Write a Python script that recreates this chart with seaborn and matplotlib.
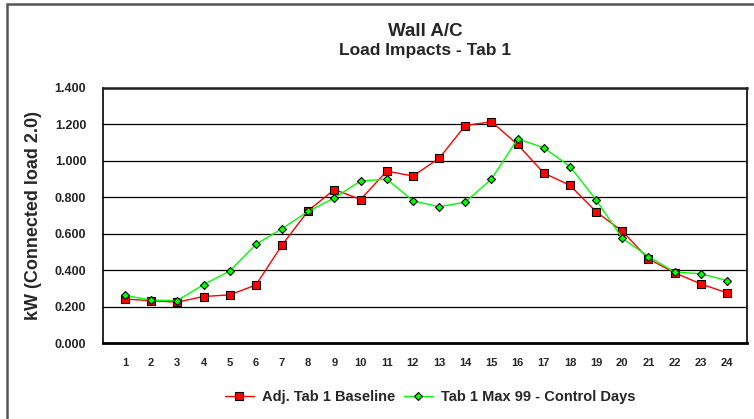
import numpy as np
import pandas as pd
import seaborn as sns
import matplotlib.pyplot as plt
from matplotlib.patches import Rectangle

# data
hours = list(range(1, 25))
baseline = [0.242, 0.233, 0.225, 0.256, 0.265, 0.319, 0.538, 0.727, 0.843, 0.788,
            0.944, 0.917, 1.014, 1.194, 1.215, 1.090, 0.933, 0.866, 0.721, 0.614,
            0.462, 0.386, 0.325, 0.276]
control = [0.262, 0.236, 0.234, 0.321, 0.396, 0.542, 0.629, 0.723, 0.797, 0.890,
           0.900, 0.781, 0.748, 0.774, 0.900, 1.121, 1.072, 0.969, 0.786, 0.575,
           0.475, 0.390, 0.381, 0.343]
y_ticks = [0.0, 0.2, 0.4, 0.6, 0.8, 1.0, 1.2, 1.4]

sns.set_style("white")
plt.rcParams['font.family'] = ['Liberation Sans', 'DejaVu Sans']
plt.rcParams['font.weight'] = 'bold'

fig = plt.figure(figsize=(7.54, 4.19), dpi=100)
ax = fig.add_axes([0.1366, 0.181, 0.854, 0.609])

# gridlines first so the lines sit on top
ax.set_yticks(y_ticks)
ax.yaxis.grid(True, color='black', linewidth=0.9)
ax.set_axisbelow(True)

sns.lineplot(x=hours, y=baseline, ax=ax, color='#FF0000', linewidth=1,
             marker='s', markersize=6, markeredgecolor='black',
             markeredgewidth=0.8, label='Adj. Tab 1 Baseline')
sns.lineplot(x=hours, y=control, ax=ax, color='#00FF00', linewidth=1,
             marker='D', markersize=3.8, markeredgecolor='black',
             markeredgewidth=0.8, label='Tab 1 Max 99 - Control Days')

ax.set_xlim(0.16, 24.76)
ax.set_ylim(0, 1.4)
ax.set_xticks(hours)
ax.set_xticklabels([str(h) for h in hours], fontsize=8, fontweight='bold')
ax.set_yticklabels(['%.3f' % v for v in y_ticks], fontsize=9, fontweight='bold')
ax.tick_params(axis='x', length=0, pad=11)
ax.tick_params(axis='y', length=0, pad=12)

for s in ['left', 'right']:
    ax.spines[s].set_color('black')
    ax.spines[s].set_linewidth(1.2)
ax.spines['top'].set_color('#222222')
ax.spines['top'].set_linewidth(1.8)
ax.spines['bottom'].set_color('black')
ax.spines['bottom'].set_linewidth(2)

ax.set_xlabel('')
ax.set_ylabel('kW (Connected load 2.0)', fontsize=13, fontweight='bold', labelpad=9)

ax.legend(loc='center', bbox_to_anchor=(0.508, -0.212), ncol=2, frameon=False,
          handlelength=2.0, columnspacing=0.6, handletextpad=0.55,
          prop={'weight': 'bold', 'size': 10.5})

fig.text(0.564, 0.924, 'Wall A/C', ha='center', va='center', fontsize=13.5, fontweight='bold')
fig.text(0.564, 0.879, 'Load Impacts - Tab 1', ha='center', va='center',
         fontsize=12.5, fontweight='bold')

# outer chart frame (right and bottom edges run off the picture)
fig.patches.append(Rectangle((7 / 754, -0.02), 1.0, 1.01,
                             transform=fig.transFigure, fill=False,
                             edgecolor='#555555', linewidth=1.8))

fig.savefig('out.png', dpi=100)
